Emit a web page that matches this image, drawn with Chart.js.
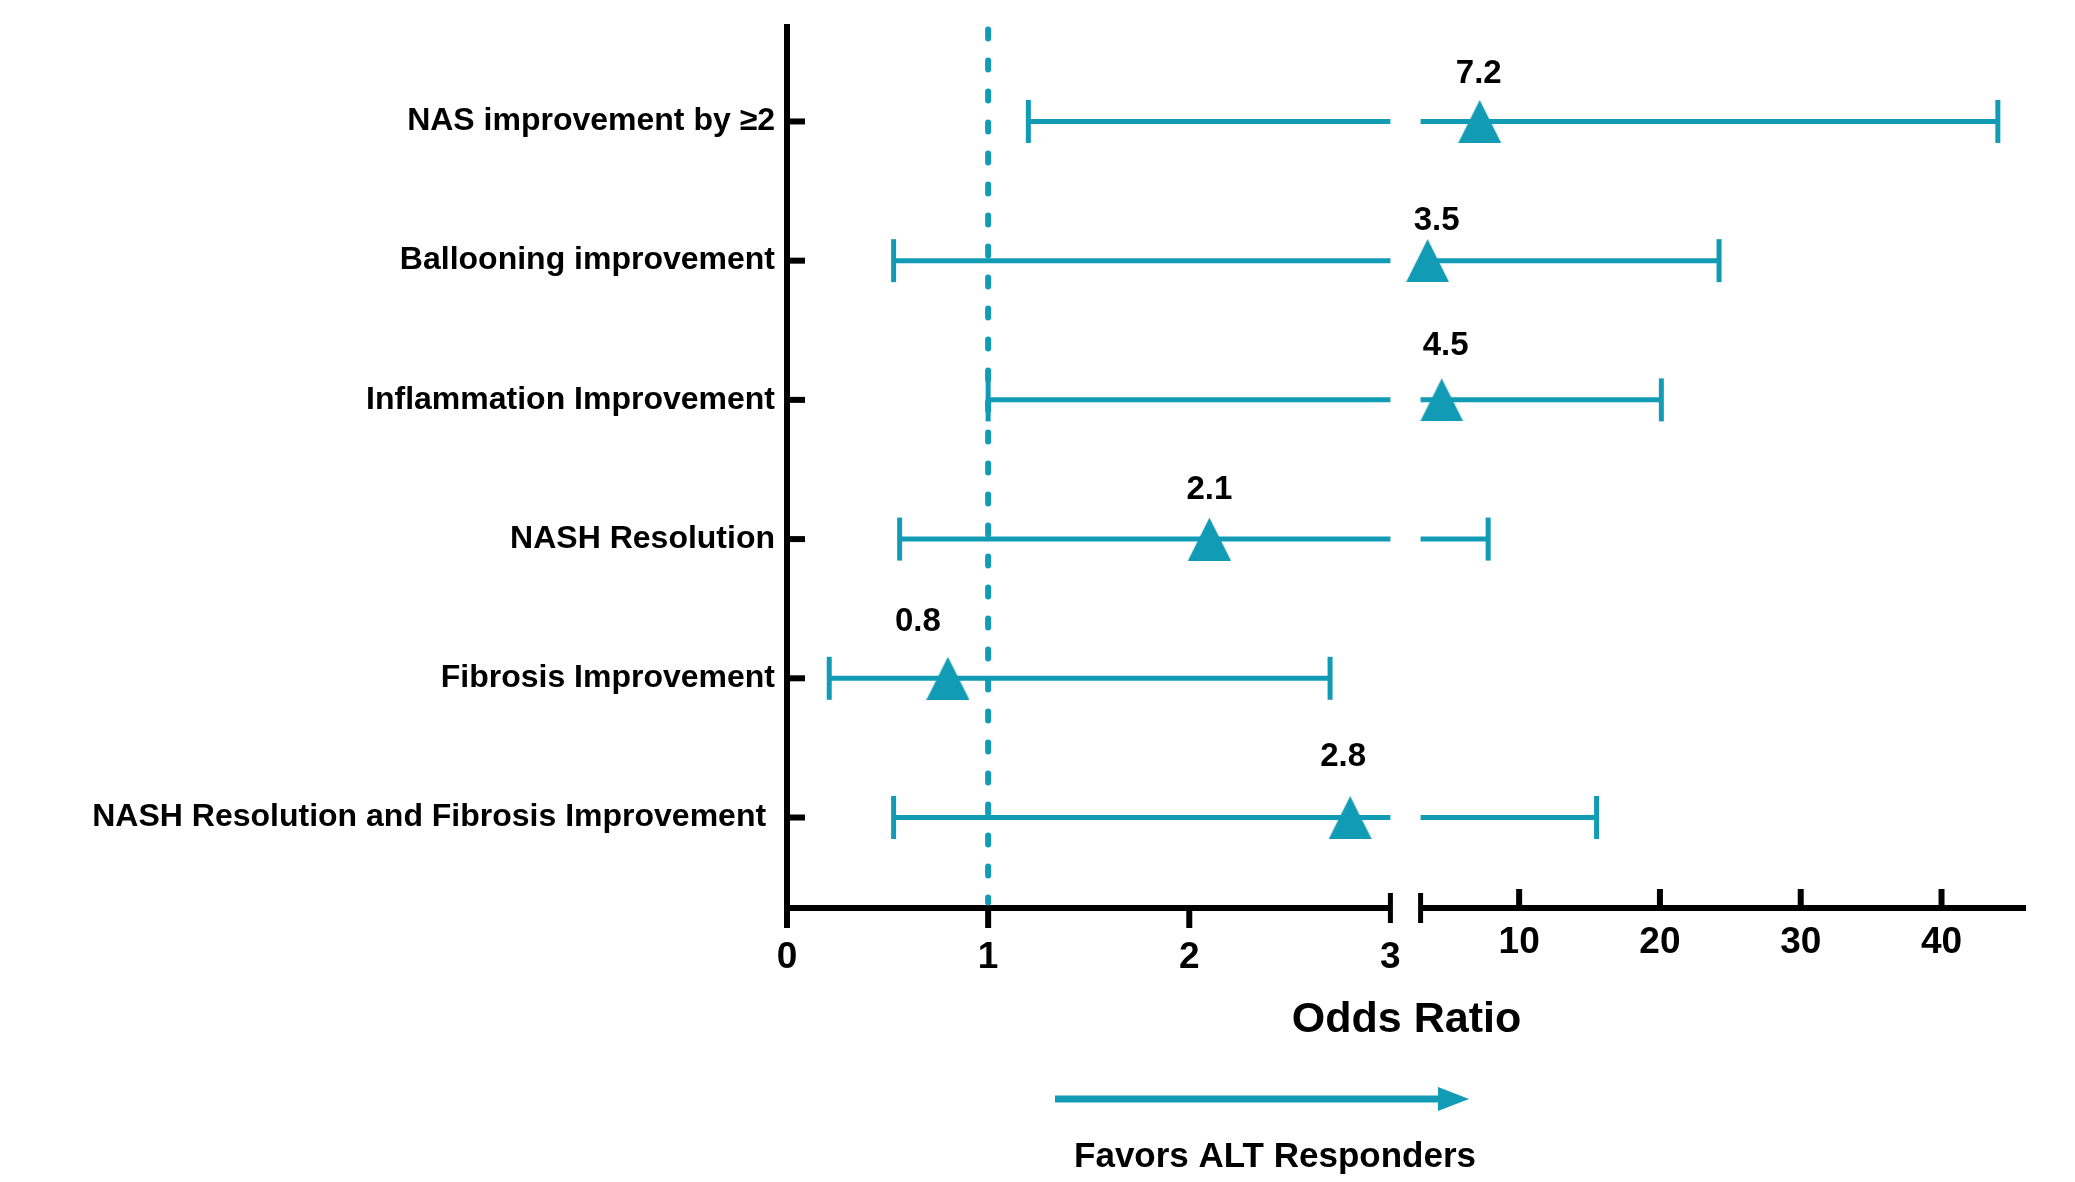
<!DOCTYPE html>
<html>
<head>
<meta charset="utf-8">
<title>Odds ratio forest plot</title>
<script src="https://cdn.jsdelivr.net/npm/chart.js@4.4.1/dist/chart.umd.min.js"></script>
<style>
    html, body { margin: 0; padding: 0; background: #fff; }
    #wrap { width: 2075px; height: 1182px; }
</style>
</head>
<body>
<div id="wrap"><canvas id="forest" width="2075" height="1182"></canvas></div>
<script>
const outcomes = [
    "NAS improvement by \u22652",
    "Ballooning improvement",
    "Inflammation Improvement",
    "NASH Resolution",
    "Fibrosis Improvement",
    "NASH Resolution and Fibrosis Improvement "
];
const oddsRatio = [7.2, 3.5, 4.5, 2.1, 0.8, 2.8];
const ciLower = [1.2, 0.53, 1.0, 0.56, 0.21, 0.53];
const ciUpper = [44.0, 24.2, 20.1, 7.8, 2.7, 15.5];
const lowTicks = [0, 1, 2, 3];
const highTicks = [10, 20, 30, 40];
const axisBreak = 3;
const axisEnd = 46;

// where the value labels sit relative to their triangle (px)
const labelNudge = [[-1, -48], [9, -40], [4, -54], [0, -49], [-30, -56], [-7, -61]];

const TEAL = "#129BB5";
const FONT = "'Liberation Sans', Arial, sans-serif";

// broken x axis: 0-3 at full scale, small gap, then 3-46 squeezed
const GAP = 0.15;
const SQUEEZE = 0.07;
function toAxis(v) {
    return v <= axisBreak ? v : axisBreak + GAP + (v - axisBreak) * SQUEEZE;
}
const highStart = axisBreak + GAP;

function triangleMarker(w, h) {
    const c = document.createElement("canvas");
    c.width = w;
    c.height = h;
    const g = c.getContext("2d");
    g.fillStyle = TEAL;
    g.beginPath();
    g.moveTo(w / 2, 0);
    g.lineTo(w, h);
    g.lineTo(0, h);
    g.closePath();
    g.fill();
    return c;
}

// whiskers, split where they cross the axis break
const whiskerSets = [];
outcomes.forEach((name, i) => {
    const lo = ciLower[i], hi = ciUpper[i];
    const pieces = [];
    if (lo < axisBreak) pieces.push([toAxis(lo), toAxis(Math.min(hi, axisBreak))]);
    if (hi > axisBreak) pieces.push([Math.max(toAxis(lo), highStart), toAxis(hi)]);
    pieces.forEach(p => {
        whiskerSets.push({
            label: name,
            data: [{ x: p[0], y: i }, { x: p[1], y: i }],
            showLine: true,
            borderColor: TEAL,
            borderWidth: 5,
            borderCapStyle: "butt",
            pointRadius: 0
        });
    });
});

const capPoints = [];
outcomes.forEach((name, i) => {
    capPoints.push({ x: toAxis(ciLower[i]), y: i });
    capPoints.push({ x: toAxis(ciUpper[i]), y: i });
});

const brokenAxis = {
    id: "brokenAxis",
    beforeDatasetsDraw(chart) {
        const { ctx, chartArea, scales: { x, y } } = chart;
        const base = chartArea.bottom;
        const left = chartArea.left;
        ctx.save();
        ctx.strokeStyle = "#000";
        ctx.lineCap = "butt";
        ctx.lineWidth = 6;

        ctx.beginPath();
        ctx.moveTo(left, chartArea.top);
        ctx.lineTo(left, base + 3);
        ctx.stroke();

        outcomes.forEach((_, i) => {
            const py = y.getPixelForValue(i);
            ctx.beginPath();
            ctx.moveTo(left, py);
            ctx.lineTo(left + 18, py);
            ctx.stroke();
        });

        const xBreak = x.getPixelForValue(axisBreak);
        const xHigh = x.getPixelForValue(highStart);
        ctx.beginPath();
        ctx.moveTo(left - 3, base);
        ctx.lineTo(xBreak, base);
        ctx.moveTo(xHigh, base);
        ctx.lineTo(chartArea.right, base);
        ctx.stroke();

        lowTicks.forEach(t => {
            if (t === axisBreak) return;
            const px = x.getPixelForValue(toAxis(t));
            ctx.beginPath();
            ctx.moveTo(px, base);
            ctx.lineTo(px, base + 20);
            ctx.stroke();
        });
        highTicks.forEach(t => {
            const px = x.getPixelForValue(toAxis(t));
            ctx.beginPath();
            ctx.moveTo(px, base);
            ctx.lineTo(px, base - 19);
            ctx.stroke();
        });

        ctx.lineWidth = 5;
        [xBreak, xHigh].forEach(px => {
            ctx.beginPath();
            ctx.moveTo(px, base - 15);
            ctx.lineTo(px, base + 15);
            ctx.stroke();
        });

        ctx.fillStyle = "#000";
        ctx.textAlign = "center";
        ctx.textBaseline = "middle";
        ctx.font = "bold 37px " + FONT;
        lowTicks.forEach(t => ctx.fillText(String(t), x.getPixelForValue(toAxis(t)), base + 50));
        highTicks.forEach(t => ctx.fillText(String(t), x.getPixelForValue(toAxis(t)), base + 35));

        ctx.font = "bold 43px " + FONT;
        ctx.fillText("Odds Ratio", (chartArea.left + chartArea.right) / 2, base + 112);

        // "favors" arrow under the axis
        const ay = base + 191;
        ctx.strokeStyle = TEAL;
        ctx.fillStyle = TEAL;
        ctx.lineWidth = 7;
        ctx.beginPath();
        ctx.moveTo(left + 268, ay);
        ctx.lineTo(left + 655, ay);
        ctx.stroke();
        ctx.beginPath();
        ctx.moveTo(left + 682, ay);
        ctx.lineTo(left + 651, ay - 12);
        ctx.lineTo(left + 651, ay + 12);
        ctx.closePath();
        ctx.fill();

        ctx.fillStyle = "#000";
        ctx.font = "bold 35px " + FONT;
        ctx.fillText("Favors ALT Responders", left + 488, base + 249);
        ctx.restore();
    },
    afterDatasetsDraw(chart) {
        const { ctx, scales: { x, y } } = chart;
        ctx.save();
        ctx.fillStyle = "#000";
        ctx.textAlign = "center";
        ctx.textBaseline = "middle";
        ctx.font = "bold 33px " + FONT;
        oddsRatio.forEach((v, i) => {
            const px = x.getPixelForValue(toAxis(v)) + labelNudge[i][0];
            const py = y.getPixelForValue(i) + labelNudge[i][1];
            ctx.fillText(v.toFixed(1), px, py);
        });
        ctx.restore();
    }
};

new Chart(document.getElementById("forest"), {
    type: "scatter",
    data: {
        datasets: [
            {
                label: "OR = 1",
                data: [{ x: 1, y: -0.66 }, { x: 1, y: 5.61 }],
                showLine: true,
                borderColor: TEAL,
                borderWidth: 6,
                borderDash: [9, 22],
                borderCapStyle: "round",
                pointRadius: 0
            },
            ...whiskerSets,
            {
                label: "CI caps",
                data: capPoints,
                pointStyle: "line",
                pointRotation: 90,
                pointRadius: 21.5,
                pointBorderWidth: 5,
                pointBorderColor: TEAL
            },
            {
                label: "Odds ratio",
                data: oddsRatio.map((v, i) => ({ x: toAxis(v), y: i })),
                pointStyle: triangleMarker(43, 43),
                pointRadius: 22
            }
        ]
    },
    options: {
        responsive: false,
        animation: false,
        layout: {
            autoPadding: false,
            padding: { left: 0, right: 49, top: 24, bottom: 274 }
        },
        plugins: {
            legend: { display: false },
            tooltip: { enabled: false }
        },
        scales: {
            x: {
                type: "linear",
                min: 0,
                max: toAxis(axisEnd),
                display: false
            },
            y: {
                type: "linear",
                reverse: true,
                min: -0.70,
                max: 5.65,
                afterBuildTicks: scale => {
                    scale.ticks = outcomes.map((_, i) => ({ value: i }));
                },
                afterFit: scale => {
                    scale.width = 787;
                    scale.paddingTop = 0;
                    scale.paddingBottom = 0;
                },
                ticks: {
                    callback: v => outcomes[v],
                    color: "#000",
                    padding: 12,
                    font: { family: FONT, size: 32, weight: "bold" }
                },
                grid: { display: false, drawTicks: false },
                border: { display: false }
            }
        }
    },
    plugins: [brokenAxis]
});
</script>
</body>
</html>
